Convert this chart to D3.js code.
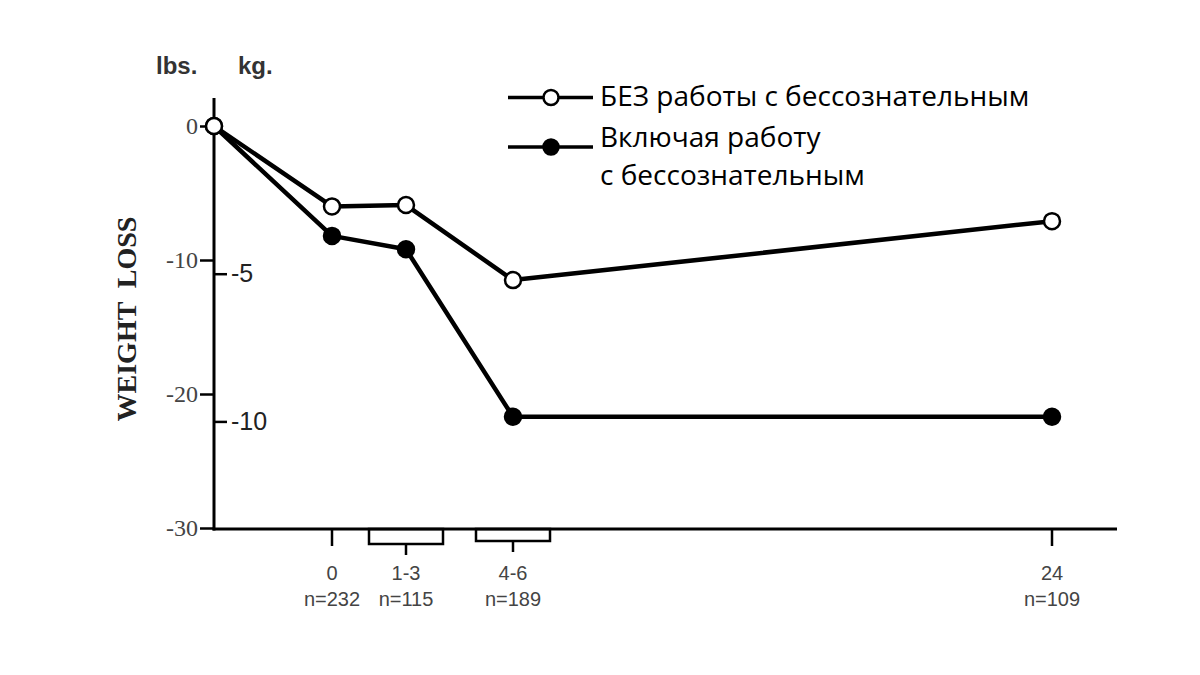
<!DOCTYPE html>
<html>
<head>
<meta charset="utf-8">
<script src="https://cdn.jsdelivr.net/npm/d3@7"></script>
<style>
  body { margin: 0; background: #fff; }
</style>
</head>
<body>
<div id="main"></div>
<script>
// periods after the start of treatment (months), plus the baseline point
const periods = ['base', '0', '1-3', '4-6', '24'];
const sampleSizes = [null, 232, 115, 189, 109];
const withoutValues = [0, -6.0, -5.9, -11.5, -7.1];   // lbs, open circles
const withValues = [0, -8.2, -9.2, -21.7, -21.7];     // lbs, filled circles
const bracketed = ['1-3', '4-6'];
const lbsTicks = [0, -10, -20, -30];
const kgTicks = [-5, -10];
const seriesNames = ['БЕЗ работы с бессознательным', ['Включая работу', 'с бессознательным']];

const width = 1200, height = 675;
const svg = d3.select('#main').append('svg').attr('width', width).attr('height', height);

const axisX = 214, axisY = 529;

const xScale = d3.scaleOrdinal().domain(periods).range([214, 332, 406, 513, 1052]);
const yScale = d3.scaleLinear().domain([0, -30]).range([126, 528]);
const kgScale = d3.scaleLinear().domain([0, -30 / 2.2046]).range([126, 528]);

// axes lines
svg.append('line')
    .attr('x1', axisX).attr('x2', axisX)
    .attr('y1', 98).attr('y2', axisY + 1.5)
    .style('stroke', '#000').style('stroke-width', 3);
svg.append('line')
    .attr('x1', axisX - 1.5).attr('x2', 1117)
    .attr('y1', axisY).attr('y2', axisY)
    .style('stroke', '#000').style('stroke-width', 3);

// lbs axis on the left
const lbsAxis = svg.append('g')
    .attr('transform', `translate(${axisX},0)`)
    .call(d3.axisLeft(yScale).tickValues(lbsTicks).tickSize(14).tickPadding(2).tickFormat(d => d));
lbsAxis.select('.domain').remove();
lbsAxis.selectAll('line').style('stroke', '#000').style('stroke-width', 2.5);
lbsAxis.selectAll('text')
    .style('font-family', '"Liberation Serif", serif')
    .style('font-size', '24px')
    .style('fill', '#444');

// kg axis on the right side of the same line
const kgAxis = svg.append('g')
    .attr('transform', `translate(${axisX},0)`)
    .call(d3.axisRight(kgScale).tickValues(kgTicks).tickSize(13).tickPadding(4).tickFormat(d => d));
kgAxis.select('.domain').remove();
kgAxis.selectAll('line').style('stroke', '#000').style('stroke-width', 2.5);
kgAxis.selectAll('text')
    .style('font-family', '"Liberation Sans", sans-serif')
    .style('font-size', '25px')
    .style('fill', '#222');

// unit headers
svg.append('text').attr('x', 156).attr('y', 74).text('lbs.')
    .style('font-family', '"Liberation Sans", sans-serif').style('font-weight', 'bold')
    .style('font-size', '24px').style('fill', '#333');
svg.append('text').attr('x', 238).attr('y', 74).text('kg.')
    .style('font-family', '"Liberation Sans", sans-serif').style('font-weight', 'bold')
    .style('font-size', '24px').style('fill', '#333');

// y title
svg.append('text')
    .attr('transform', 'translate(136,319) rotate(-90)')
    .style('text-anchor', 'middle')
    .style('white-space', 'pre')
    .style('font-family', '"Liberation Serif", serif')
    .style('font-weight', 'bold')
    .style('font-size', '28px')
    .style('fill', '#222')
    .text('WEIGHT  LOSS');

// x ticks and brackets
const xData = periods.slice(1);
const xg = svg.append('g');
xData.forEach((p, i) => {
    const cx = xScale(p);
    if (bracketed.includes(p)) {
        const h = p === '1-3' ? 15 : 12;
        xg.append('rect')
            .attr('x', cx - 37).attr('y', axisY)
            .attr('width', 74).attr('height', h)
            .style('fill', 'none').style('stroke', '#000').style('stroke-width', 2.5);
        xg.append('line')
            .attr('x1', cx).attr('x2', cx)
            .attr('y1', axisY + h).attr('y2', axisY + h + 11)
            .style('stroke', '#000').style('stroke-width', 2.5);
    } else {
        xg.append('line')
            .attr('x1', cx).attr('x2', cx)
            .attr('y1', axisY).attr('y2', axisY + 17)
            .style('stroke', '#000').style('stroke-width', 2.5);
    }
    xg.append('text')
        .attr('x', cx).attr('y', 580)
        .style('text-anchor', 'middle')
        .style('font-family', '"Liberation Sans", sans-serif')
        .style('font-size', '20px')
        .style('fill', '#444')
        .text(p);
    xg.append('text')
        .attr('x', cx).attr('y', 606)
        .style('text-anchor', 'middle')
        .style('font-family', '"Liberation Sans", sans-serif')
        .style('font-size', '20px')
        .style('fill', '#444')
        .text('n=' + sampleSizes[i + 1]);
});

// series
const line = d3.line().x(d => xScale(d.p)).y(d => yScale(d.v));
const withData = periods.map((p, i) => ({ p: p, v: withValues[i] }));
const withoutData = periods.map((p, i) => ({ p: p, v: withoutValues[i] }));

function drawSeries(data, filled) {
    svg.append('path')
        .datum(data)
        .attr('d', line)
        .style('fill', 'none')
        .style('stroke', '#000')
        .style('stroke-width', 4.5)
        .style('stroke-linejoin', 'round');
    svg.append('g').selectAll('circle')
        .data(data)
        .enter()
            .append('circle')
                .attr('cx', d => xScale(d.p))
                .attr('cy', d => yScale(d.v))
                .attr('r', 8)
                .style('fill', filled ? '#000' : '#fff')
                .style('stroke', '#000')
                .style('stroke-width', 2.5);
}

drawSeries(withData, true);
drawSeries(withoutData, false);

// legend
const legend = svg.append('g');
[[97.5, false], [147, true]].forEach(([ly, filled], i) => {
    legend.append('line')
        .attr('x1', 508).attr('x2', 593)
        .attr('y1', ly).attr('y2', ly)
        .style('stroke', '#000').style('stroke-width', 3.5);
    legend.append('circle')
        .attr('cx', 551).attr('cy', ly).attr('r', 7.5)
        .style('fill', filled ? '#000' : '#fff')
        .style('stroke', '#000').style('stroke-width', 2.5);
});
const legendFont = '"Open Sans", sans-serif';
legend.append('text').attr('x', 600).attr('y', 106).text(seriesNames[0])
    .style('font-family', legendFont).style('font-size', '28px').style('fill', '#000');
seriesNames[1].forEach((t, i) => {
    legend.append('text').attr('x', 600).attr('y', 147 + i * 38).text(t)
        .style('font-family', legendFont).style('font-size', '28px').style('fill', '#000');
});
</script>
</body>
</html>
